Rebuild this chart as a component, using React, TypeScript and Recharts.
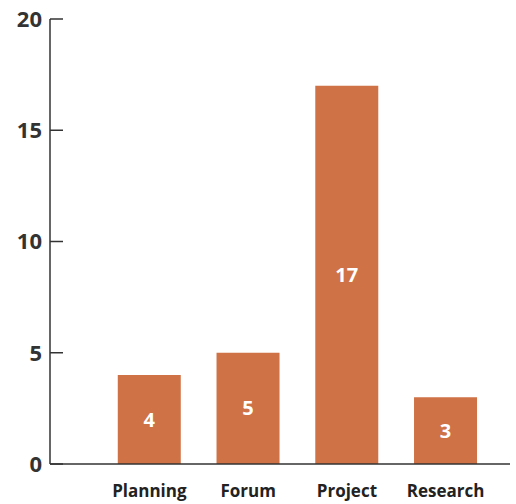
import React from 'react';
import { BarChart, Bar, XAxis, YAxis, LabelList } from 'recharts';

const categories = ['Planning', 'Forum', 'Project', 'Research'];
const counts = [4, 5, 17, 3];
const yTicks = [0, 5, 10, 15, 20];

const data = categories.map((name, i) => ({ name, value: counts[i] }));

const FONT = '"Open Sans", "Noto Sans", sans-serif';
const INK = '#333333';
const BAR = '#cf7246';

export default function App() {
  return (
    <div style={{ position: 'absolute', left: 0, top: 0, width: 516, height: 504, background: '#fff' }}>
      <BarChart
        width={516}
        height={504}
        data={data}
        margin={{ top: 19, right: 6, left: 0, bottom: 0 }}
        barCategoryGap="18%"
      >
        <XAxis
          dataKey="name"
          height={40}
          tickLine={false}
          tickSize={6}
          tickMargin={15}
          padding={{ left: 50, right: 15 }}
          axisLine={{ stroke: INK, strokeWidth: 1.5 }}
          tick={{ fill: '#222', fontSize: 17, fontWeight: 700, fontFamily: FONT }}
        />
        <YAxis
          width={50}
          domain={[0, 20]}
          ticks={yTicks}
          interval={0}
          tickSize={-13}
          tickMargin={21}
          axisLine={{ stroke: INK, strokeWidth: 1.5 }}
          tickLine={{ stroke: INK, strokeWidth: 1.5 }}
          tick={{ fill: INK, fontSize: 22, fontWeight: 700, fontFamily: FONT }}
        />
        <Bar dataKey="value" fill={BAR} isAnimationActive={false}>
          <LabelList
            dataKey="value"
            position="center"
            fill="#ffffff"
            style={{ fontSize: 20, fontWeight: 700, fontFamily: FONT }}
          />
        </Bar>
      </BarChart>
    </div>
  );
}
